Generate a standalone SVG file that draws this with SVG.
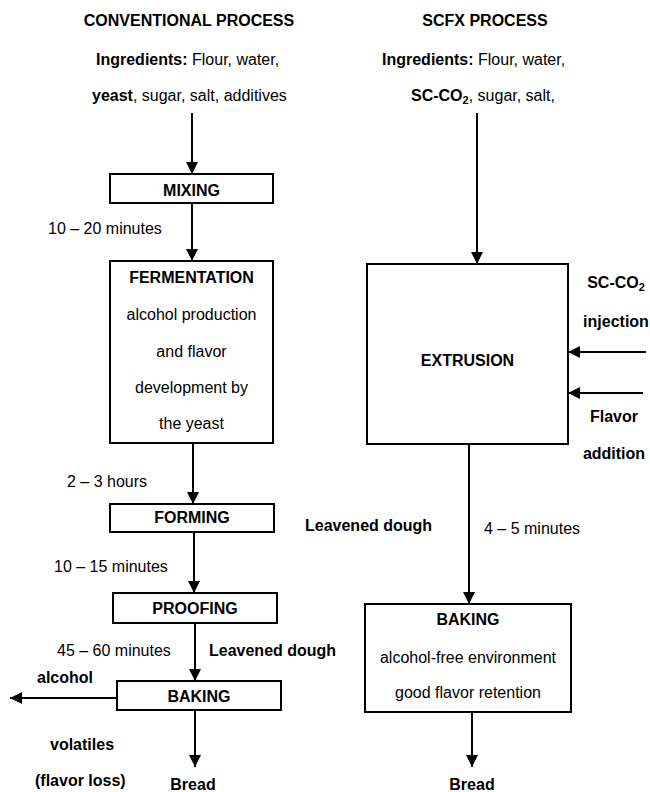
<svg xmlns="http://www.w3.org/2000/svg" width="650" height="792" viewBox="0 0 650 792">
<style>
text{font-family:"Liberation Sans",Arial,Helvetica,sans-serif;font-size:16px;fill:#000}
.b{font-weight:bold}
.m{text-anchor:middle}
.box{fill:#fff;stroke:#000;stroke-width:2}
.ln{stroke:#000;stroke-width:2;fill:none;marker-end:url(#ah)}
</style>
<defs>
<marker id="ah" markerUnits="userSpaceOnUse" markerWidth="12" markerHeight="12" refX="12" refY="6" orient="auto">
<path d="M0,0 L12,6 L0,12 z" fill="#000"/>
</marker>
</defs>
<g id="titles">
<text class="b m" x="189" y="26">CONVENTIONAL PROCESS</text>
<text class="b m" x="485" y="26">SCFX PROCESS</text>
</g>
<g id="ingredients-conv">
<text x="96" y="65"><tspan class="b">Ingredients:</tspan> Flour, water,</text>
<text x="92" y="101"><tspan class="b">yeast</tspan>, sugar, salt, additives</text>
</g>
<g id="ingredients-scfx">
<text x="382" y="65"><tspan class="b">Ingredients:</tspan> Flour, water,</text>
<text x="411" y="101"><tspan class="b">SC-CO</tspan><tspan class="b" font-size="11" dy="3">2</tspan><tspan dy="-3">, sugar, salt,</tspan></text>
</g>
<g id="connectors">
<line class="ln" x1="192" y1="113" x2="192" y2="174"/>
<line class="ln" x1="192" y1="203" x2="192" y2="261"/>
<line class="ln" x1="193" y1="443" x2="193" y2="504"/>
<line class="ln" x1="194" y1="532" x2="194" y2="593"/>
<line class="ln" x1="195" y1="623" x2="195" y2="681"/>
<line class="ln" x1="117" y1="698" x2="10" y2="698"/>
<line class="ln" x1="195" y1="710" x2="195" y2="767"/>
<line class="ln" x1="477" y1="113" x2="477" y2="264"/>
<line class="ln" x1="646" y1="352" x2="568" y2="352"/>
<line class="ln" x1="643" y1="393" x2="568" y2="393"/>
<line class="ln" x1="469" y1="444" x2="469" y2="604"/>
<line class="ln" x1="472" y1="712" x2="472" y2="767"/>
</g>
<g id="mixing">
<rect class="box" x="110" y="174" width="163" height="29"/>
<text class="b m" x="191.5" y="196">MIXING</text>
</g>
<g id="fermentation">
<rect class="box" x="110" y="261" width="163" height="182"/>
<text class="b m" x="191.5" y="283">FERMENTATION</text>
<text class="m" x="191.5" y="320">alcohol production</text>
<text class="m" x="191.5" y="357">and flavor</text>
<text class="m" x="191.5" y="393">development by</text>
<text class="m" x="191.5" y="429">the yeast</text>
</g>
<g id="forming">
<rect class="box" x="110" y="504" width="164" height="28"/>
<text class="b m" x="192" y="523">FORMING</text>
</g>
<g id="proofing">
<rect class="box" x="113" y="593" width="164" height="30"/>
<text class="b m" x="195" y="614">PROOFING</text>
</g>
<g id="baking-conv">
<rect class="box" x="117" y="681" width="164" height="29"/>
<text class="b m" x="199" y="702">BAKING</text>
</g>
<g id="extrusion">
<rect class="box" x="367" y="264" width="201" height="180"/>
<text class="b m" x="467.5" y="366">EXTRUSION</text>
</g>
<g id="baking-scfx">
<rect class="box" x="365" y="604" width="206" height="108"/>
<text class="b m" x="468" y="625">BAKING</text>
<text class="m" x="468" y="663">alcohol-free environment</text>
<text class="m" x="468" y="698">good flavor retention</text>
</g>
<g id="labels">
<text x="48" y="234">10 – 20 minutes</text>
<text x="67" y="487">2 – 3 hours</text>
<text x="54" y="572">10 – 15 minutes</text>
<text x="57" y="656">45 – 60 minutes</text>
<text class="b" x="209" y="656">Leavened dough</text>
<text class="b" x="37" y="683">alcohol</text>
<text class="b" x="50" y="750">volatiles</text>
<text class="b" x="35" y="786">(flavor loss)</text>
<text class="b m" x="193" y="790">Bread</text>
<text class="b" x="305" y="531">Leavened dough</text>
<text x="484" y="534">4 – 5 minutes</text>
<text class="b m" x="472" y="790">Bread</text>
<text class="b m" x="616" y="288">SC-CO<tspan font-size="11" dy="3">2</tspan></text>
<text class="b m" x="616" y="327">injection</text>
<text class="b m" x="614" y="422">Flavor</text>
<text class="b m" x="614" y="459">addition</text>
</g>
</svg>
